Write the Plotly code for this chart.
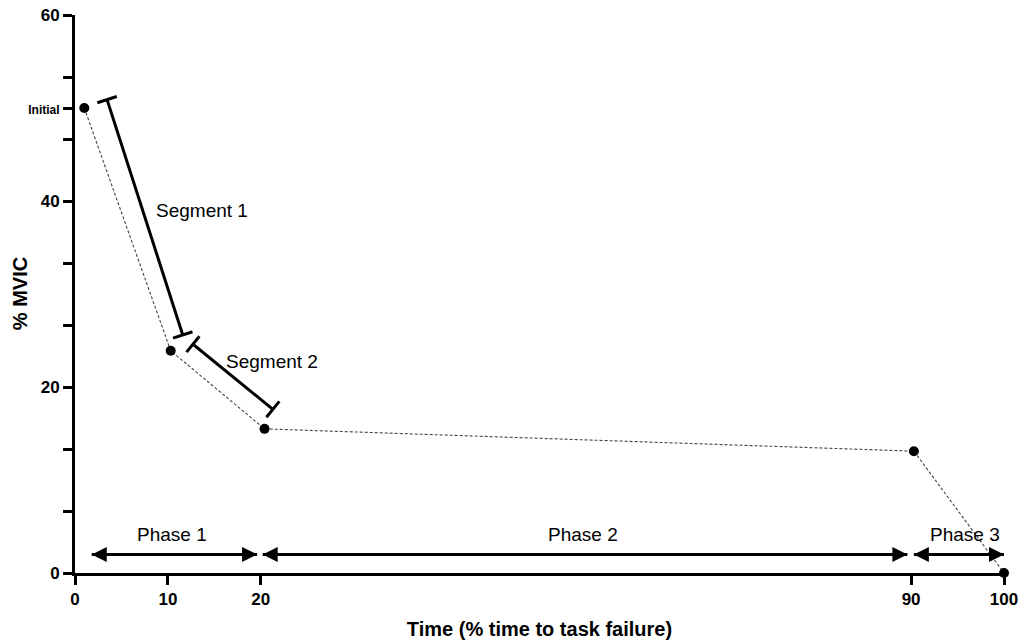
import numpy as np
import plotly.graph_objects as go

# ---- data ----
time_pct = [1, 10.3, 20.4, 90.3, 100]
mvic = [50, 23.9, 15.5, 13.1, 0]

y_tickvals = [0, 6.667, 13.333, 20, 26.667, 33.333, 40, 46.667, 50, 53.333, 60]
y_ticktext = ['0', '', '', '20', '', '', '40', '',
              '<span style="font-size:12px">Initial</span>', '', '60']
x_tickvals = [0, 10, 20, 90, 100]
x_ticktext = ['0', '10', '20', '90', '100']

segment_names = ['Segment 1', 'Segment 2']
segment_start_x = [3.45, 12.7]
segment_start_y = [50.9, 24.6]
segment_end_x = [11.6, 21.3]
segment_end_y = [25.6, 17.6]
segment_label_x = [13.7, 21.2]
segment_label_y = [39.0, 22.7]

phase_names = ['Phase 1', 'Phase 2', 'Phase 3']
phase_start = [1.8, 20.2, 90.3]
phase_end = [19.6, 89.6, 100]
phase_arrow_y = 2.0
phase_label_x = [10.4, 54.7, 95.8]
phase_label_y = 4.1

cap_half = 1.1  # half-length of the segment end caps (data units)

FONT = "Liberation Sans, Arial, Helvetica, sans-serif"

fig = go.Figure()

# dotted trajectory
fig.add_trace(go.Scatter(
    x=time_pct, y=mvic, mode='lines+markers',
    line=dict(color='#444444', width=1.1, dash='3px,2px'),
    marker=dict(color='black', size=10),
    cliponaxis=False, showlegend=False, hoverinfo='skip'))

# segments with perpendicular caps
for i, name in enumerate(segment_names):
    p0 = np.array([segment_start_x[i], segment_start_y[i]])
    p1 = np.array([segment_end_x[i], segment_end_y[i]])
    d = (p1 - p0) / np.linalg.norm(p1 - p0)
    n = np.array([-d[1], d[0]]) * cap_half
    xs = [p0[0], p1[0], None, p0[0] - n[0], p0[0] + n[0], None, p1[0] - n[0], p1[0] + n[0]]
    ys = [p0[1], p1[1], None, p0[1] - n[1], p0[1] + n[1], None, p1[1] - n[1], p1[1] + n[1]]
    fig.add_trace(go.Scatter(x=xs, y=ys, mode='lines',
                             line=dict(color='black', width=3),
                             showlegend=False, hoverinfo='skip', cliponaxis=False))
    fig.add_annotation(x=segment_label_x[i], y=segment_label_y[i], text=name,
                       showarrow=False, font=dict(size=19, color='black', family=FONT))

# phase arrows
for i, name in enumerate(phase_names):
    fig.add_trace(go.Scatter(x=[phase_start[i], phase_end[i]],
                             y=[phase_arrow_y, phase_arrow_y],
                             mode='lines+markers',
                             line=dict(color='black', width=3),
                             marker=dict(symbol=['arrow-left', 'arrow-right'], size=15,
                                         color='black', line=dict(width=0)),
                             showlegend=False, hoverinfo='skip', cliponaxis=False))
    fig.add_annotation(x=phase_label_x[i], y=phase_label_y, text=name,
                       showarrow=False, font=dict(size=19, color='black', family=FONT))

# y-axis title as a rotated annotation (placed slightly further right than default)
fig.add_annotation(xref='paper', yref='paper', x=-0.059, y=0.5, text='% MVIC',
                   textangle=-90, showarrow=False, xanchor='center', yanchor='middle',
                   font=dict(size=20, family=FONT, color='black', weight='bold'))

fig.update_xaxes(range=[0, 100], tickvals=x_tickvals, ticktext=x_ticktext,
                 showline=True, linecolor='black', linewidth=3,
                 ticks='outside', ticklen=9, tickwidth=3, tickcolor='black',
                 showgrid=False, zeroline=False, ticklabeloverflow='allow',
                 tickfont=dict(size=17, family=FONT, color='black', weight='bold'),
                 title=dict(text='Time (% time to task failure)', standoff=14,
                            font=dict(size=20, family=FONT, color='black', weight='bold')))
fig.update_yaxes(range=[0, 60], tickvals=y_tickvals, ticktext=y_ticktext,
                 showline=True, linecolor='black', linewidth=3,
                 ticks='outside', ticklen=9, tickwidth=3, tickcolor='black',
                 showgrid=False, zeroline=False, ticklabeloverflow='allow',
                 tickfont=dict(size=17, family=FONT, color='black', weight='bold'))

fig.update_layout(width=1022, height=641, plot_bgcolor='white', paper_bgcolor='white',
                  margin=dict(l=75, r=18, t=15, b=68, autoexpand=False),
                  showlegend=False)

fig.write_html("out.html",
               config={'displayModeBar': False},
               post_script="document.body.style.margin='0';"
                           "document.documentElement.style.overflow='hidden';"
                           "document.body.style.overflow='hidden';")
